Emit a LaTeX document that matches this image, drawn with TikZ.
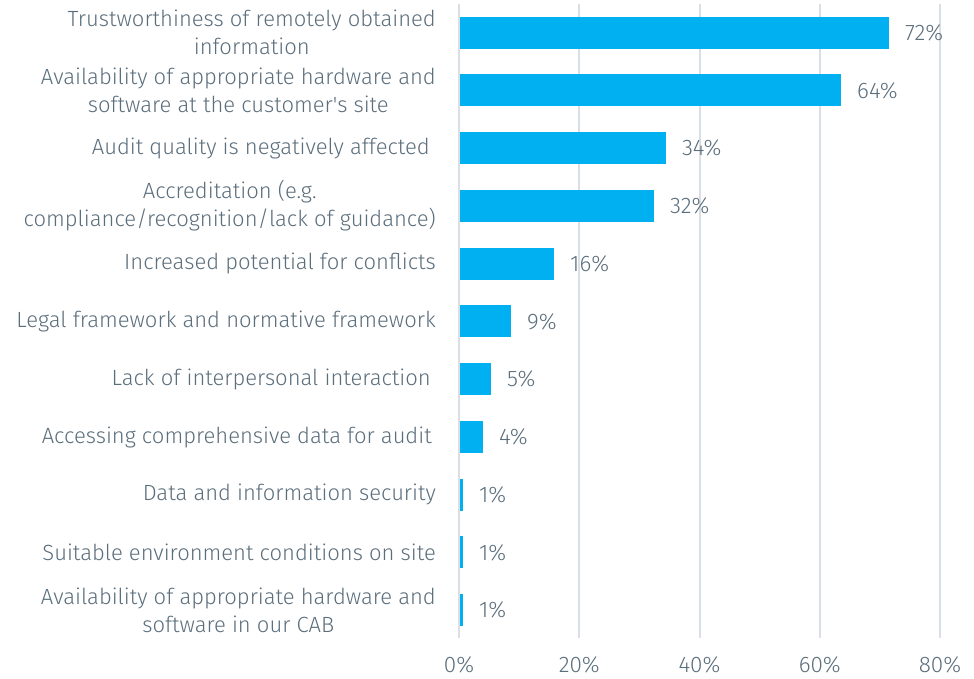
\documentclass[tikz,border=0pt]{standalone}
\usepackage{fontspec}
\setmainfont{Fira Sans Light}[Ligatures=TeXOff]
\definecolor{barblue}{HTML}{00B0F0}
\definecolor{txtgray}{HTML}{5B6E7C}
\definecolor{gridgray}{HTML}{D9DFE4}
\begin{document}
\begin{tikzpicture}[x=1pt,y=-1pt,
  cat/.style={anchor=east,align=center,text=txtgray,font=\fontsize{22}{28}\selectfont,inner sep=0pt},
  val/.style={anchor=west,text=txtgray,font=\fontsize{22.5}{28}\selectfont,inner sep=0pt},
  tick/.style={anchor=center,text=txtgray,font=\fontsize{22.5}{28}\selectfont,inner sep=0pt},
  grid/.style={draw=gridgray,line width=2pt},
  bar/.style={fill=barblue}]
\useasboundingbox (0,0) rectangle (974,679);
% gridlines
\foreach \p/\n in {0/g0,20/g20,40/g40,60/g60,80/g80}{
  \coordinate (\n t) at (459+6.0125*\p,4);
  \coordinate (\n b) at (459+6.0125*\p,638);
  \draw[grid] (\n t) -- (\n b);
  \node[tick] (\n l) at (459+6.0125*\p,665) {\p\%};
}
% bars
\foreach \i/\v/\e in {1/72/889,2/64/841,3/34/666,4/32/654,5/16/554,6/9/511,7/5/491,8/4/483,9/1/463,10/1/463,11/1/463}{
  \pgfmathsetmacro{\yc}{32.7+57.75*(\i-1)}
  \fill[bar] (460,\yc-16) rectangle (\e,\yc+16);
  \coordinate (b\i) at (\e,\yc);
  \node[val] (v\i) at ([xshift=16pt]b\i) {\v\%};
}
% categories
\node[cat] (c1) at (436,32.7) {Trustworthiness of remotely obtained\\information};
\node[cat] (c2) at (436,90.5) {Availability of appropriate hardware and\\software at the customer's site};
\node[cat] (c3) at (430,148.2) {Audit quality is negatively affected};
\node[cat] (c4) at (436,206) {Accreditation (e.g.\\compliance/recognition/lack of guidance)};
\node[cat] (c5) at (436,263.7) {Increased potential for conflicts};
\node[cat] (c6) at (436,321.5) {Legal framework and normative framework};
\node[cat] (c7) at (431,379.2) {Lack of interpersonal interaction};
\node[cat] (c8) at (432,437) {Accessing comprehensive data for audit};
\node[cat] (c9) at (436,494.7) {Data and information security};
\node[cat] (c10) at (436,552.5) {Suitable environment conditions on site};
\node[cat] (c11) at (436,610.2) {Availability of appropriate hardware and\\software in our CAB};
\end{tikzpicture}
\end{document}
